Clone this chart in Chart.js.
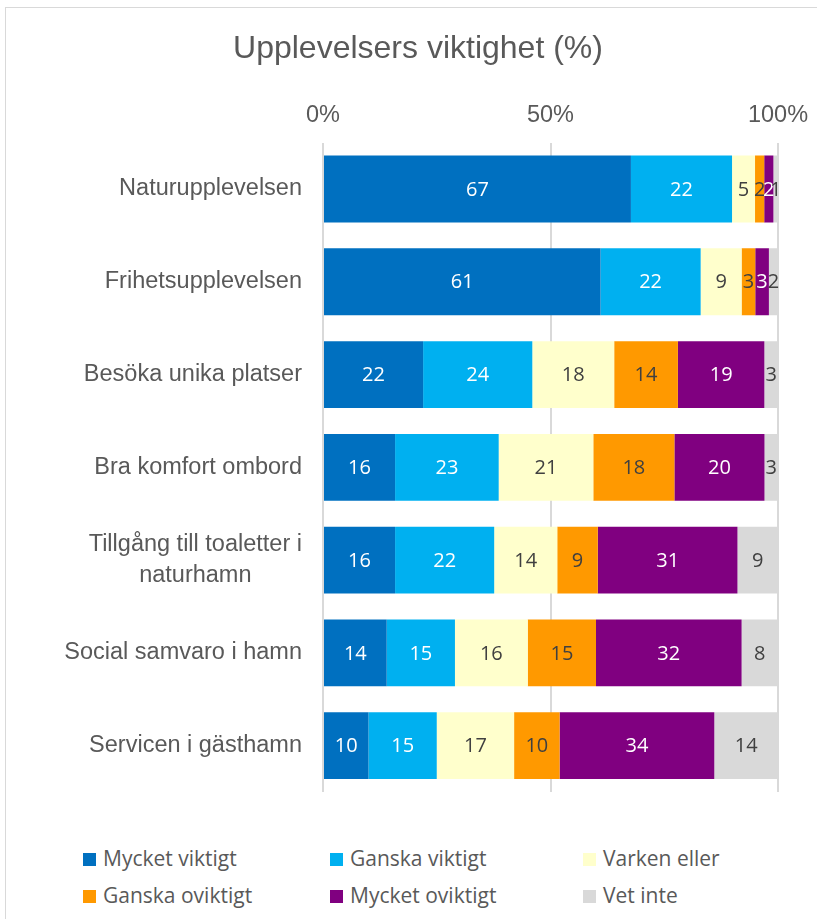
<!DOCTYPE html>
<html>
<head>
<meta charset="utf-8">
<script src="https://cdn.jsdelivr.net/npm/chart.js@4"></script>
<style>
  body { margin: 0; width: 817px; height: 919px; overflow: hidden; background: #fff; position: relative; }
  #frame { position: absolute; left: 5px; top: 7px; width: 840px; height: 940px; border: 1px solid #d9d9d9; box-sizing: border-box; }
  #wrap { position: absolute; left: 0; top: 0; width: 817px; height: 800px; }
  .leg { position: absolute; font-family: "Open Sans", sans-serif; font-size: 21px; color: #595959; line-height: 24px; white-space: nowrap; }
  .leg span { display: inline-block; width: 13px; height: 13px; margin-right: 7px; vertical-align: 0px; }
</style>
</head>
<body>
<div id="frame"></div>
<div id="wrap"><canvas id="chart"></canvas></div>
<div id="legend"></div>
<script>
const categories = [
  "Naturupplevelsen",
  "Frihetsupplevelsen",
  "Besöka unika platser",
  "Bra komfort ombord",
  ["Tillgång till toaletter i", "naturhamn"],
  "Social samvaro i hamn",
  "Servicen i gästhamn"
];
const seriesNames = ["Mycket viktigt", "Ganska viktigt", "Varken eller", "Ganska oviktigt", "Mycket oviktigt", "Vet inte"];
const mycketViktigt  = [67, 61, 22, 16, 16, 14, 10];
const ganskaViktigt  = [22, 22, 24, 23, 22, 15, 15];
const varkenEller    = [5, 9, 18, 21, 14, 16, 17];
const ganskaOviktigt = [2, 3, 14, 18, 9, 15, 10];
const mycketOviktigt = [2, 3, 19, 20, 31, 32, 34];
const vetInte        = [1, 2, 3, 3, 9, 8, 14];
const xTicks = [0, 50, 100];

const colors = ["#0070C0", "#00B0F0", "#FFFFCC", "#FF9900", "#800080", "#D9D9D9"];
const labelColors = ["#ffffff", "#ffffff", "#404040", "#404040", "#ffffff", "#404040"];
const series = [mycketViktigt, ganskaViktigt, varkenEller, ganskaOviktigt, mycketOviktigt, vetInte];

// 100% stacked: normalise each row by its total
const totals = categories.map((c, i) => series.reduce((s, arr) => s + arr[i], 0));

const datasets = series.map((arr, k) => ({
  label: seriesNames[k],
  data: arr.map((v, i) => v / totals[i] * 100),
  raw: arr,
  backgroundColor: colors[k],
  borderWidth: 0,
  categoryPercentage: 1,
  barPercentage: 0.72
}));

const FONT = "Liberation Sans, Arial, sans-serif";

const valueLabels = {
  id: "valueLabels",
  afterDatasetsDraw(chart) {
    const ctx = chart.ctx;
    ctx.save();
    ctx.font = '20px "Open Sans", sans-serif';
    ctx.textAlign = "center";
    ctx.textBaseline = "middle";
    chart.data.datasets.forEach((ds, k) => {
      chart.getDatasetMeta(k).data.forEach((bar, i) => {
        ctx.fillStyle = labelColors[k];
        ctx.fillText(String(ds.raw[i]), (bar.x + bar.base) / 2, bar.y + 1);
      });
    });
    ctx.restore();
  }
};

// category labels: right aligned block, lines centred inside it (like Excel)
const categoryLabels = {
  id: "categoryLabels",
  afterDraw(chart) {
    const ctx = chart.ctx;
    const y = chart.scales.y;
    const right = chart.chartArea.left - 21;
    const lh = 31;
    ctx.save();
    ctx.font = "23.5px " + FONT;
    ctx.fillStyle = "#595959";
    ctx.textBaseline = "middle";
    ctx.textAlign = "center";
    chart.data.labels.forEach((lab, i) => {
      const lines = Array.isArray(lab) ? lab : [lab];
      const w = Math.max(...lines.map(l => ctx.measureText(l).width));
      const cy = y.getPixelForTick(i);
      lines.forEach((l, j) => {
        ctx.fillText(l, right - w / 2, cy + (j - (lines.length - 1) / 2) * lh);
      });
    });
    ctx.restore();
  }
};

new Chart(document.getElementById("chart"), {
  type: "bar",
  data: { labels: categories, datasets },
  plugins: [valueLabels, categoryLabels],
  options: {
    indexAxis: "y",
    responsive: true,
    maintainAspectRatio: false,
    animation: false,
    layout: { padding: { top: 30, left: 58, right: 39, bottom: 8 } },
    plugins: {
      legend: { display: false },
      tooltip: { enabled: false },
      title: {
        display: true,
        text: "Upplevelsers viktighet (%)",
        color: "#595959",
        font: { family: FONT, size: 32, weight: "normal" },
        padding: { top: 0, bottom: 20 }
      }
    },
    scales: {
      x: {
        position: "top",
        stacked: true,
        min: 0,
        max: 100,
        afterBuildTicks: s => { s.ticks = xTicks.map(v => ({ value: v })); },
        afterFit: s => { s.paddingLeft = 0; s.paddingRight = 0; },
        ticks: {
          color: "#595959",
          padding: 13,
          font: { family: FONT, size: 23.5 },
          callback: v => v + "%"
        },
        grid: { color: "#d9d9d9", lineWidth: 2, drawTicks: false },
        border: { display: false }
      },
      y: {
        stacked: true,
        afterFit: s => { s.width = 265; },
        ticks: { display: false },
        grid: { display: false },
        border: { display: false }
      }
    }
  }
});

// legend in two rows of three columns
const legendPos = [[83, 846], [330, 846], [583, 846], [83, 883], [330, 883], [583, 883]];
const legend = document.getElementById("legend");
seriesNames.forEach((name, k) => {
  const d = document.createElement("div");
  d.className = "leg";
  d.style.left = legendPos[k][0] + "px";
  d.style.top = legendPos[k][1] + "px";
  d.innerHTML = '<span style="background:' + colors[k] + '"></span>' + name;
  legend.appendChild(d);
});
</script>
</body>
</html>
